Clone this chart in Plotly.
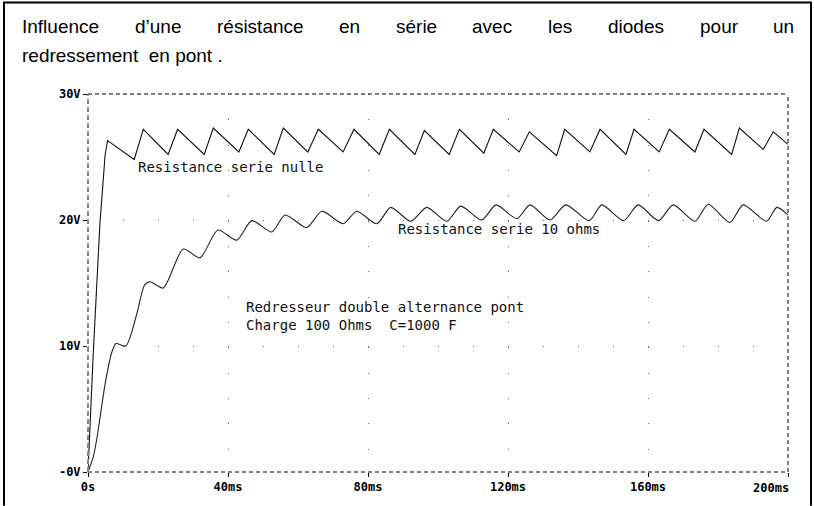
import plotly.graph_objects as go

# ---------------- data ----------------
t_r0 = [0.0, 1.5, 3.4, 4.9, 5.6, 13.2, 15.8, 22.9, 25.6, 33.2, 35.8, 43.1, 45.8,
        53.2, 55.8, 62.8, 65.8, 72.9, 76.0, 83.2, 86.1, 93.4, 96.1, 103.2, 106.1,
        113.1, 115.8, 123.2, 126.1, 133.9, 136.2, 143.4, 146.3, 153.7, 156.0,
        163.2, 166.1, 173.4, 176.0, 183.9, 186.1, 192.9, 195.8, 200.0]
v_r0 = [0.0, 9.4, 19.7, 25.2, 26.3, 24.8, 27.2, 25.2, 27.2, 25.2, 27.3, 25.4, 27.2,
        25.2, 27.3, 25.4, 27.2, 25.4, 27.2, 25.2, 27.2, 25.2, 27.1, 25.2, 27.2,
        25.3, 27.2, 25.4, 27.0, 25.1, 27.2, 25.4, 27.2, 25.2, 27.2,
        25.4, 27.2, 25.4, 27.2, 25.2, 27.3, 25.6, 27.0, 26.0]

t_r10 = [0.0, 1.5, 2.5, 4.9, 6.8, 8.0, 10.8, 13.9, 16.1, 17.7, 21.5, 27.2, 32.0,
         37.1, 42.5, 46.8, 52.5, 56.3, 62.5, 66.8, 72.9, 76.8, 82.5, 86.5, 92.2,
         96.8, 102.5, 106.5, 112.5, 116.6, 122.5, 126.3, 132.0, 136.5, 143.2,
         146.8, 153.0, 157.2, 163.0, 167.2, 173.4, 177.2, 183.4, 187.2, 193.9,
         196.8, 200.0]
v_r10 = [0.0, 1.2, 2.6, 7.0, 9.5, 10.2, 10.0, 12.5, 14.8, 15.1, 14.6, 17.7, 17.0,
         19.2, 18.4, 19.95, 19.05, 20.4, 19.4, 20.7, 19.7, 20.7, 19.7, 21.0, 19.9,
         21.0, 19.9, 21.1, 20.0, 21.2, 20.1, 21.2, 20.0, 21.2, 19.95,
         21.2, 19.95, 21.2, 19.95, 21.2, 19.9, 21.25, 19.8, 21.2, 19.9,
         21.0, 20.4]

x_ticks = [0, 40, 80, 120, 160, 200]
x_tick_labels = ["0s", "40ms", "80ms", "120ms", "160ms", "200ms"]
y_ticks = [0, 10, 20, 30]
y_tick_labels = ["-0V", "10V", "20V", "30V"]

title_words = ["Influence", "d’une", "résistance", "en", "série", "avec",
               "les", "diodes", "pour", "un"]
title_line2 = "redressement\u00a0 en pont ."
label_r0 = "Resistance serie nulle"
label_r10 = "Resistance serie 10 ohms"
label_info1 = "Redresseur double alternance pont"
label_info2 = "Charge 100 Ohms\u00a0 C=1000 F"

# ---------------- layout helpers ----------------
W, H = 814, 506
ML, MR, MT, MB = 88, 26, 94, 32
PW, PH = W - ML - MR, H - MT - MB


def px(x):
    return (x - ML) / PW


def py(y):
    return (H - MB - y) / PH


fig = go.Figure()
fig.add_trace(go.Scatter(x=t_r0, y=v_r0, mode="lines",
                         line=dict(color="#111111", width=1.1),
                         name="R=0", showlegend=False))
fig.add_trace(go.Scatter(x=t_r10, y=v_r10, mode="lines",
                         line=dict(color="#222222", width=1.1, shape="spline",
                                   smoothing=0.7),
                         name="R=10", showlegend=False))

mono = "DejaVu Sans Mono"
tickfont = dict(family=mono, size=12, color="black", weight="bold")

# the last x label is shifted left in the original, drawn as an annotation
x_text_axis = x_tick_labels[:-1] + [""]

fig.update_layout(
    width=W, height=H,
    margin=dict(l=ML, r=MR, t=MT, b=MB, pad=0),
    paper_bgcolor="white", plot_bgcolor="white",
    xaxis=dict(range=[0, 200], tickvals=x_ticks, ticktext=x_text_axis,
               showgrid=True, gridcolor="#666666", gridwidth=1,
               griddash="1px,24.33px", zeroline=False, showline=False,
               ticks="outside", ticklen=4, tickcolor="black",
               tickfont=tickfont, fixedrange=True),
    yaxis=dict(range=[0, 30], tickvals=y_ticks, ticktext=y_tick_labels,
               showgrid=True, gridcolor="#666666", gridwidth=1,
               griddash="1px,34px", zeroline=False, showline=False,
               ticks="outside", ticklen=4, tickcolor="black",
               tickfont=tickfont, fixedrange=True),
    showlegend=False,
)

# plot frame (dashed)
shapes = [
    dict(type="line", xref="paper", yref="paper", x0=0, y0=1, x1=1, y1=1,
         line=dict(color="black", width=1, dash="4px,3px")),
    dict(type="line", xref="paper", yref="paper", x0=1, y0=0, x1=1, y1=1,
         line=dict(color="black", width=1, dash="4px,3px")),
    dict(type="line", xref="paper", yref="paper", x0=0, y0=0, x1=1, y1=0,
         line=dict(color="black", width=1, dash="4px,3px")),
    dict(type="line", xref="paper", yref="paper", x0=0, y0=0, x1=0, y1=1,
         line=dict(color="#888888", width=2, dash="5px,3px")),
    # outer page border
    dict(type="line", xref="paper", yref="paper", x0=px(4), y0=py(2),
         x1=px(4), y1=py(H + 2), line=dict(color="black", width=2)),
    dict(type="line", xref="paper", yref="paper", x0=px(3), y0=py(2),
         x1=px(812), y1=py(2), line=dict(color="black", width=2)),
    dict(type="line", xref="paper", yref="paper", x0=px(811), y0=py(2),
         x1=px(811), y1=py(H + 2), line=dict(color="black", width=2)),
]
fig.update_layout(shapes=shapes)

# title, justified word by word
title_x = [20, 133, 215, 337, 394, 470, 546, 606, 698, 771]
annotations = []
tfont = dict(family="Liberation Sans", size=19, color="black")
for w, xx in zip(title_words, title_x):
    annotations.append(dict(text=w, xref="paper", yref="paper", x=px(xx),
                            y=py(26), xanchor="left", yanchor="middle",
                            showarrow=False, font=tfont))
annotations.append(dict(text=title_line2, xref="paper", yref="paper", x=px(20),
                        y=py(55), xanchor="left", yanchor="middle",
                        showarrow=False, font=tfont))

lfont = dict(family=mono, size=14, color="#111111")
for txt, xx, yy in [(label_r0, 136, 167), (label_r10, 396, 230),
                    (label_info1, 244, 308), (label_info2, 244, 326)]:
    annotations.append(dict(text=txt, xref="paper", yref="paper", x=px(xx),
                            y=py(yy), xanchor="left", yanchor="middle",
                            showarrow=False, font=lfont))

annotations.append(dict(text=x_tick_labels[-1], xref="paper", yref="paper",
                        x=px(791), y=py(490), xanchor="right", yanchor="middle",
                        showarrow=False, font=tickfont))
fig.update_layout(annotations=annotations)

fig.write_html(
    "out.html",
    config={"displayModeBar": False},
    post_script="document.body.style.margin='0';document.body.style.overflow='hidden';",
)
